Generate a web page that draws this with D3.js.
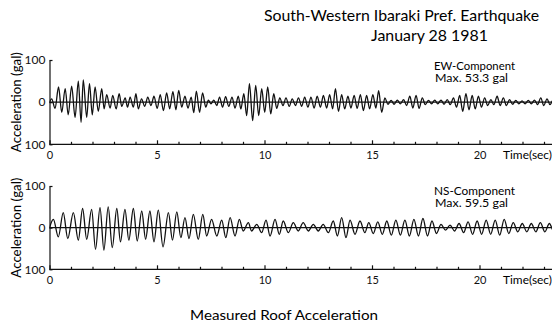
<!DOCTYPE html>
<html>
<head>
<meta charset="utf-8">
<script src="https://cdn.jsdelivr.net/npm/d3@7"></script>
<style>
  body { margin: 0; background: #fff; }
  svg { display: block; font-family: "Lato", "DejaVu Sans", sans-serif; }
  .axis-line path, .axis-line line { stroke: #111; stroke-width: 1.2; }
  .axis-line text { font-size: 11px; fill: #111; font-family: "Lato", "DejaVu Sans", sans-serif; }
  .wave { fill: none; stroke: #111; stroke-width: 1.3; stroke-linejoin: round; }
</style>
</head>
<body>
<div class="chart-container"></div>
<script>
// peaks and troughs (time in sec, acceleration in gal)
const ewTime = [0.00, 0.10, 0.26, 0.42, 0.57, 0.73, 0.87, 1.03, 1.19, 1.34, 1.47, 1.57, 1.73, 1.86, 1.99, 2.12, 2.27, 2.43, 2.54, 2.66,
  2.82, 2.94, 3.10, 3.24, 3.36, 3.52, 3.63, 3.75, 3.90, 4.02, 4.13, 4.28, 4.43, 4.57, 4.72, 4.86, 5.01, 5.15, 5.30, 5.45,
  5.59, 5.74, 5.88, 6.01, 6.15, 6.30, 6.44, 6.59, 6.71, 6.83, 6.98, 7.12, 7.27, 7.39, 7.51, 7.64, 7.78, 7.91, 8.05, 8.19,
  8.34, 8.49, 8.63, 8.78, 8.90, 9.04, 9.17, 9.30, 9.45, 9.59, 9.73, 9.87, 10.01, 10.15, 10.29, 10.43, 10.57, 10.71, 10.86, 11.00,
  11.15, 11.29, 11.44, 11.58, 11.73, 11.87, 12.02, 12.16, 12.31, 12.45, 12.60, 12.74, 12.89, 13.03, 13.17, 13.30, 13.44, 13.59, 13.73, 13.88,
  14.02, 14.17, 14.31, 14.46, 14.60, 14.75, 14.89, 15.04, 15.18, 15.31, 15.45, 15.60, 15.74, 15.89, 16.03, 16.18, 16.32, 16.47, 16.61, 16.76,
  16.90, 17.05, 17.19, 17.34, 17.48, 17.63, 17.77, 17.92, 18.06, 18.21, 18.35, 18.50, 18.64, 18.79, 18.93, 19.08, 19.22, 19.37, 19.51, 19.66,
  19.80, 19.95, 20.09, 20.24, 20.38, 20.53, 20.67, 20.82, 20.96, 21.11, 21.25, 21.40, 21.54, 21.69, 21.83, 21.98, 22.12, 22.27, 22.41, 22.56,
  22.70, 22.85, 22.99, 23.14, 23.28, 23.43, 23.57];
const ewAcc = [0, 8, -15, 36, -24, 32, -30, 38, -36, 50, -48, 53, -36, 44, -30, 36, -22, 32, -16, 18,
  -14, 16, -16, 20, -10, 10, -12, 12, -12, 20, -16, 8, -10, 12, -8, 14, -15, 18, -20, 22,
  -16, 25, -18, 28, -12, 14, -14, 12, -25, 26, -24, 22, -12, 5, -4, 5, -8, 12, -12, 13,
  -10, 12, -14, 14, -16, 20, -32, 44, -44, 40, -32, 32, -24, 36, -28, 20, -15, 10, -8, 10,
  -10, 8, -8, 10, -10, 12, -12, 12, -14, 14, -12, 16, -14, 18, -16, 32, -22, 18, -16, 14,
  -14, 16, -15, 18, -20, 16, -16, 18, -14, 27, -24, 10, -5, 4, -5, 5, -4, 6, -8, 14,
  -14, 16, -15, 10, -6, 4, -4, 5, -4, 5, -5, 6, -6, 10, -12, 16, -22, 20, -18, 16,
  -16, 14, -12, 10, -8, 6, -6, 14, -8, 10, -8, 6, -5, 4, -4, 3, -4, 4, -4, 5,
  -6, 10, -8, 8, -6, 5, -5];

const nsTime = [0.00, 0.18, 0.41, 0.64, 0.85, 1.11, 1.34, 1.54, 1.73, 1.96, 2.14, 2.35, 2.53, 2.73, 2.92, 3.13, 3.30, 3.51, 3.69, 3.90,
  4.08, 4.29, 4.47, 4.67, 4.86, 5.06, 5.28, 5.53, 5.72, 5.92, 6.11, 6.30, 6.49, 6.69, 6.92, 7.13, 7.31, 7.54, 7.78, 8.01,
  8.20, 8.40, 8.63, 8.83, 9.01, 9.25, 9.40, 9.64, 9.87, 10.07, 10.26, 10.49, 10.69, 10.87, 11.11, 11.34, 11.57, 11.80, 12.04, 12.27,
  12.50, 12.73, 12.97, 13.20, 13.39, 13.59, 13.79, 13.98, 14.21, 14.44, 14.67, 14.85, 15.06, 15.27, 15.48, 15.69, 15.90, 16.11, 16.32, 16.53,
  16.74, 16.95, 17.16, 17.37, 17.58, 17.79, 18.00, 18.21, 18.42, 18.63, 18.84, 19.05, 19.26, 19.47, 19.68, 19.89, 20.10, 20.31, 20.52, 20.73,
  20.94, 21.15, 21.36, 21.57, 21.78, 21.99, 22.20, 22.41, 22.62, 22.83, 23.04, 23.25, 23.46, 23.67];
const nsAcc = [0, 20, -22, 36, -26, 36, -30, 46, -28, 44, -52, 48, -54, 50, -48, 46, -34, 44, -30, 46,
  -32, 40, -28, 40, -34, 42, -46, 36, -30, 38, -24, 24, -26, 32, -28, 32, -20, 20, -20, 18,
  -24, 24, -20, 20, -8, 12, -8, 8, -12, 18, -20, 20, -16, 16, -12, 12, -8, 12, -8, 8,
  -8, 8, -12, 16, -20, 24, -24, 18, -16, 16, -12, 12, -14, 14, -16, 16, -18, 18, -18, 18,
  -20, 20, -20, 22, -20, 16, -14, 8, -6, 6, -8, 10, -12, 14, -16, 16, -16, 18, -16, 18,
  -18, 20, -14, 12, -10, 10, -10, 10, -10, 12, -10, 10, -10, 8];

const xTicks = [0, 5, 10, 15, 20];
const yTicks = [-100, 0, 100];

const width = 552, height = 327;

const svg = d3.select(".chart-container").append("svg")
    .attr("width", width)
    .attr("height", height);

const x = d3.scaleLinear().domain([0, 20]).range([49.5, 479.5]);

svg.append("defs").append("clipPath")
    .attr("id", "plot-clip")
  .append("rect")
    .attr("x", 49.5).attr("y", 0)
    .attr("width", width - 49.5).attr("height", height);

svg.append("text")
    .attr("x", 264).attr("y", 21)
    .attr("textLength", 275).attr("lengthAdjust", "spacingAndGlyphs")
    .style("font-size", "15px")
    .text("South-Western Ibaraki Pref. Earthquake");

svg.append("text")
    .attr("x", 371).attr("y", 41)
    .attr("textLength", 117).attr("lengthAdjust", "spacingAndGlyphs")
    .style("font-size", "15px")
    .text("January  28  1981");

svg.append("text")
    .attr("x", 190).attr("y", 320)
    .attr("textLength", 188).attr("lengthAdjust", "spacingAndGlyphs")
    .style("font-size", "14px")
    .text("Measured Roof Acceleration");

function drawPanel(times, acc, top, bottom, name, maxLabel, labelY) {
  const y = d3.scaleLinear().domain([-100, 100]).range([bottom, top]);

  // x axis with small inward ticks every second
  const xAxis = svg.append("g")
      .attr("class", "axis-line")
      .attr("transform", "translate(0," + bottom + ")")
      .call(d3.axisBottom(x)
        .tickValues(d3.range(0, 24))
        .tickSizeInner(-2.5)
        .tickSizeOuter(0)
        .tickPadding(7)
        .tickFormat((d) => xTicks.includes(d) ? d : ""));
  xAxis.select(".domain").attr("d", "M49.5,0H" + width);
  xAxis.selectAll(".tick line")
      .attr("y2", (d) => xTicks.includes(d) ? -4 : -2.5);

  svg.append("text")
      .attr("x", 503).attr("y", bottom + 15)
      .attr("textLength", 49).attr("lengthAdjust", "spacingAndGlyphs")
      .style("font-size", "11px")
      .text("Time(sec)");

  const yAxis = svg.append("g")
      .attr("class", "axis-line")
      .attr("transform", "translate(49.5,0)")
      .call(d3.axisLeft(y)
        .tickValues(yTicks)
        .tickSizeInner(-3)
        .tickSizeOuter(0)
        .tickPadding(4)
        .tickFormat((d) => Math.abs(d)));
  yAxis.selectAll(".tick text").style("font-size", "12px");

  // zero line
  svg.append("line")
      .attr("x1", 49.5).attr("x2", width)
      .attr("y1", y(0)).attr("y2", y(0))
      .attr("stroke", "#111").attr("stroke-width", 1.2);

  const line = d3.line()
      .x((d, i) => x(times[i]))
      .y((d) => y(d))
      .curve(d3.curveMonotoneX);

  svg.append("path")
      .datum(acc)
      .attr("class", "wave")
      .attr("clip-path", "url(#plot-clip)")
      .attr("d", line);

  svg.append("text")
      .attr("transform", "translate(21," + ((top + bottom) / 2) + ") rotate(-90)")
      .attr("text-anchor", "middle")
      .attr("textLength", 100).attr("lengthAdjust", "spacingAndGlyphs")
      .style("font-size", "12.5px")
      .text("Acceleration (gal)");

  svg.append("text")
      .attr("x", 434).attr("y", labelY)
      .attr("textLength", 81).attr("lengthAdjust", "spacingAndGlyphs")
      .style("font-size", "10.5px")
      .text(name);

  svg.append("text")
      .attr("x", 435).attr("y", labelY + 11.5)
      .attr("textLength", 73).attr("lengthAdjust", "spacingAndGlyphs")
      .style("font-size", "10.5px")
      .text(maxLabel);
}

drawPanel(ewTime, ewAcc, 60, 144.3, "EW-Component", "Max.  53.3 gal", 70);
drawPanel(nsTime, nsAcc, 186, 269.3, "NS-Component", "Max.  59.5 gal", 195);
</script>
</body>
</html>
